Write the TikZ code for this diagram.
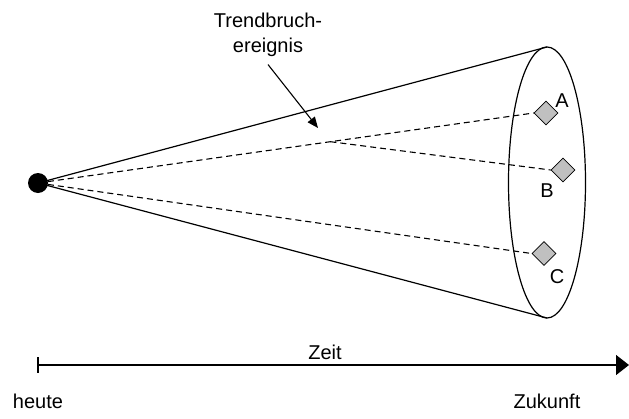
\documentclass[tikz,border=0pt]{standalone}
\usepackage{fontspec}
\setmainfont{Liberation Sans}
\usepackage{tikz}
\usetikzlibrary{shapes.geometric, arrows.meta, positioning}
\definecolor{szengray}{RGB}{192,192,192}

\begin{document}
\begin{tikzpicture}[
  x=1pt, y=-1pt,
  lbl/.style={inner sep=0pt, font=\fontsize{20}{25}\selectfont, align=center},
  szen/.style={diamond, draw=black, fill=szengray, line width=0.8pt,
               minimum width=24pt, minimum height=24pt, inner sep=0pt},
  pfad/.style={line width=1.1pt, dash pattern=on 6pt off 4pt},
  arr/.style={-{Triangle[length=11pt, width=9pt]}, line width=1.1pt},
  zeitarr/.style={-{Triangle[length=13pt, width=20pt]}, line width=1.3pt}
]
  \useasboundingbox (0,0) rectangle (629,418);

  % Cone
  \coordinate (heute) at (38,183);
  \coordinate (top) at (547,47);
  \coordinate (bot) at (547,318);
  \draw[line width=1.2pt] (heute) -- (top);
  \draw[line width=1.2pt] (heute) -- (bot);
  \draw[line width=1.2pt] (547,182.5) ellipse [x radius=38.5, y radius=135.5];

  % Scenarios
  \node[szen] (A) at (546,113) {};
  \node[szen] (B) at (563,170) {};
  \node[szen] (C) at (544,253.5) {};
  \node[lbl, anchor=base] (lA) at (562,107) {A};
  \node[lbl, anchor=base] (lB) at (547,197) {B};
  \node[lbl, anchor=base] (lC) at (557,283) {C};

  \draw[pfad] (heute) -- (A.west) coordinate[pos=0.59] (brk);
  \draw[pfad] (brk) -- (B.west);
  \draw[pfad] (heute) -- (C.west);

  \fill (heute) circle [radius=10pt];

  % Trend break
  \node[lbl, anchor=north] (trend) at (268,12.5) {Trendbruch-\\ereignis};
  \coordinate (hit) at (318,128);
  \draw[arr] ([xshift=0pt, yshift=-8pt]trend.south) -- (hit);

  % Time axis
  \coordinate (t0) at (38,365);
  \coordinate (t1) at (629,365);
  \draw[line width=1.3pt] (38,357) -- (38,373);
  \draw[zeitarr] (t0) -- (t1);
  \node[lbl, anchor=base] (zeit) at (325,359) {Zeit};
  \node[lbl, anchor=base] (lheute) at (38,408) {heute};
  \node[lbl, anchor=base] (lzuk) at (547,408) {Zukunft};
\end{tikzpicture}
\end{document}
